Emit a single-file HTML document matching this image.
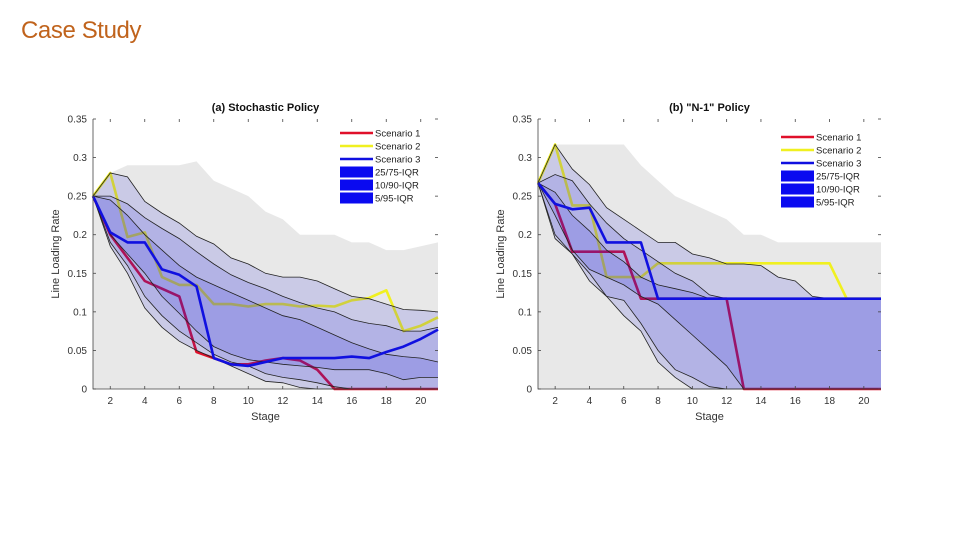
<!DOCTYPE html>
<html><head><meta charset="utf-8"><style>
body{margin:0;background:#fff;width:960px;height:540px;overflow:hidden;font-family:"Liberation Sans",sans-serif}
#title{position:absolute;left:21px;top:17px;font-size:24px;letter-spacing:-0.4px;color:#c0631c;font-family:"Liberation Sans",sans-serif}
svg{position:absolute;left:0;top:0}
</style></head><body>
<div id="title">Case Study</div>
<svg id="svg" width="960" height="540"></svg>
<script>
const stages=[1,2,3,4,5,6,7,8,9,10,11,12,13,14,15,16,17,18,19,20,21];
const yTicks=[0,0.05,0.1,0.15,0.2,0.25,0.3,0.35];
const yTickLabels=["0","0.05","0.1","0.15","0.2","0.25","0.3","0.35"];
const xTicks=[2,4,6,8,10,12,14,16,18,20];
const legendLabels=["Scenario 1","Scenario 2","Scenario 3","25/75-IQR","10/90-IQR","5/95-IQR"];
// Left: stochastic policy
const aCloud=[.25,.28,.29,.29,.29,.29,.295,.27,.26,.25,.23,.22,.2,.2,.2,.19,.19,.18,.18,.185,.19];
const aP95=[.25,.28,.275,.243,.228,.215,.198,.188,.17,.162,.15,.145,.145,.14,.13,.12,.117,.11,.103,.102,.1];
const aP90=[.25,.25,.24,.222,.208,.195,.178,.162,.148,.138,.13,.12,.112,.105,.1,.09,.085,.082,.075,.075,.08];
const aP75=[.25,.245,.225,.2,.18,.16,.145,.135,.125,.115,.105,.095,.09,.08,.07,.06,.052,.045,.042,.04,.035];
const aP25=[.25,.2,.175,.15,.12,.098,.075,.055,.045,.038,.035,.032,.03,.028,.025,.025,.025,.02,.012,.015,.015];
const aP10=[.25,.19,.16,.12,.095,.075,.06,.045,.035,.03,.02,.015,.012,.008,.003,0,0,0,0,0,0];
const aP05=[.25,.185,.15,.105,.08,.062,.05,.04,.03,.02,.01,.008,.002,0,0,0,0,0,0,0,0];
const aS1=[.25,.2,.17,.14,.13,.12,.048,.04,.032,.032,.037,.04,.037,.025,0,0,0,0,0,0,0];
const aS2=[.25,.28,.197,.203,.145,.135,.135,.11,.11,.107,.11,.11,.107,.108,.107,.115,.118,.128,.075,.082,.093];
const aS3=[.25,.203,.19,.19,.155,.148,.133,.04,.032,.03,.035,.04,.04,.04,.04,.042,.04,.048,.055,.065,.077];
// Right: N-1 policy
const bCloud=[.267,.317,.317,.317,.317,.317,.29,.27,.25,.24,.23,.22,.2,.2,.19,.19,.19,.19,.19,.19,.19];
const bP95=[.267,.317,.285,.265,.235,.22,.205,.19,.19,.175,.17,.162,.162,.16,.145,.14,.12,.117,.117,.117,.117];
const bP90=[.267,.278,.27,.24,.215,.195,.18,.165,.15,.14,.122,.117,.117,.117,.117,.117,.117,.117,.117,.117,.117];
const bP75=[.267,.255,.225,.205,.18,.165,.145,.135,.13,.125,.117,.117,.117,.117,.117,.117,.117,.117,.117,.117,.117];
const bP25=[.267,.225,.18,.155,.145,.135,.12,.11,.09,.07,.05,.03,0,0,0,0,0,0,0,0,0];
const bP10=[.267,.2,.175,.15,.12,.115,.085,.05,.025,.015,.003,0,0,0,0,0,0,0,0,0,0];
const bP05=[.267,.195,.175,.14,.12,.095,.075,.035,.015,0,0,0,0,0,0,0,0,0,0,0,0];
const bS1=[.267,.24,.178,.178,.178,.178,.117,.117,.117,.117,.117,.117,0,0,0,0,0,0,0,0,0];
const bS2=[.267,.317,.238,.238,.145,.145,.145,.163,.163,.163,.163,.163,.163,.163,.163,.163,.163,.163,.117,.117,.117];
const bS3=[.267,.24,.233,.235,.19,.19,.19,.117,.117,.117,.117,.117,.117,.117,.117,.117,.117,.117,.117,.117,.117];

const NS="http://www.w3.org/2000/svg";
const svg=document.getElementById('svg');
function mk(tag,attrs,parent){const e=document.createElementNS(NS,tag);for(const k in attrs)e.setAttribute(k,attrs[k]);(parent||svg).appendChild(e);return e;}

function chart(o){
  const g=mk('g',{});
  
  
  const X=v=>o.x0+(v-1)/20*(o.x1-o.x0);
  const Y=v=>o.y0-v/0.35*(o.y0-o.y1);
  const pts=a=>a.map((v,i)=>X(stages[i]).toFixed(1)+','+Y(v).toFixed(1));
  const band=(hi,lo,fill,op,nm)=>{const p=mk('polygon',{points:pts(hi).concat(pts(lo).reverse()).join(' '),fill:fill,'fill-opacity':op},g);
    };
  const line=(a,c)=>{const l=mk('polyline',{points:pts(a).join(' '),fill:'none',stroke:c,'stroke-width':2.6,'stroke-linejoin':'round'},g);
    };
  band(o.cloud,stages.map(()=>0),'#e8e8e8',1,'sample-cloud');
  line(o.s2,'#f0f020');
  line(o.s1,'#e0102a');
  band(o.p95,o.p05,'#2020e0',0.15,'band-5-95');
  band(o.p90,o.p10,'#2020e0',0.13,'band-10-90');
  band(o.p75,o.p25,'#2020e0',0.15,'band-25-75');
  [o.p95,o.p90,o.p75,o.p25,o.p10,o.p05].forEach(a=>{const l=mk('polyline',{points:pts(a).join(' '),fill:'none',stroke:'#222','stroke-width':0.8},g);
    });
  line(o.s3,'#1010e0');
  const ax=mk('path',{d:`M${o.x0},${o.y1}V${o.y0}H${o.x1}`,stroke:'#444','stroke-width':0.8,fill:'none'},g);
  
  yTicks.forEach((t,i)=>{
    mk('line',{x1:o.x0,x2:o.x0+3,y1:Y(t),y2:Y(t),stroke:'#444','stroke-width':0.8},g);
    mk('line',{x1:o.x1,x2:o.x1-3,y1:Y(t),y2:Y(t),stroke:'#444','stroke-width':0.8},g);
    const tx=mk('text',{x:o.x0-6,y:Y(t)+3.5,'text-anchor':'end','font-size':10,fill:'#333'},g);
    tx.textContent=yTickLabels[i];
    
  });
  xTicks.forEach(t=>{
    mk('line',{x1:X(t),x2:X(t),y1:o.y0,y2:o.y0-3,stroke:'#444','stroke-width':0.8},g);
    mk('line',{x1:X(t),x2:X(t),y1:o.y1,y2:o.y1+3,stroke:'#444','stroke-width':0.8},g);
    const tx=mk('text',{x:X(t),y:o.y0+15,'text-anchor':'middle','font-size':10,fill:'#333'},g);
    tx.textContent=t;
    
  });
  const xt=mk('text',{x:(o.x0+o.x1)/2,y:o.y0+31,'text-anchor':'middle','font-size':11,fill:'#333'},g);
  xt.textContent='Stage';
  const yt=mk('text',{x:0,y:0,'text-anchor':'middle','font-size':11,fill:'#333',transform:`translate(${o.x0-34},${(o.y0+o.y1)/2}) rotate(-90)`},g);
  yt.textContent='Line Loading Rate';
  const tt=mk('text',{x:(o.x0+o.x1)/2,y:o.y1-8,'text-anchor':'middle','font-size':11,'font-weight':'bold',fill:'#111'},g);
  tt.textContent=o.title;
  const cols=['#e0102a','#f0f020','#1010e0','#0a0af0','#0a0af0','#0a0af0'];
  legendLabels.forEach((lb,i)=>{
    const yy=o.ly+i*13;
    const le=mk('g',{},g);
    
    if(i<3) mk('line',{x1:o.lx,x2:o.lx+33,y1:yy,y2:yy,stroke:cols[i],'stroke-width':2.6},le);
    else mk('rect',{x:o.lx,y:yy-5.5,width:33,height:11,fill:cols[i]},le);
    const t=mk('text',{x:o.lx+35,y:yy+3.5,'font-size':9.5,fill:'#222'},le);t.textContent=lb;
  });
}
chart({name:'stochastic-policy-chart',title:'(a) Stochastic Policy',x0:93,x1:438,y0:389,y1:119,cloud:aCloud,p95:aP95,p90:aP90,p75:aP75,p25:aP25,p10:aP10,p05:aP05,s1:aS1,s2:aS2,s3:aS3,lx:340,ly:133});
chart({name:'n-1-policy-chart',title:'(b) "N-1" Policy',x0:538,x1:881,y0:389,y1:119,cloud:bCloud,p95:bP95,p90:bP90,p75:bP75,p25:bP25,p10:bP10,p05:bP05,s1:bS1,s2:bS2,s3:bS3,lx:781,ly:137});
</script>
</body></html>
